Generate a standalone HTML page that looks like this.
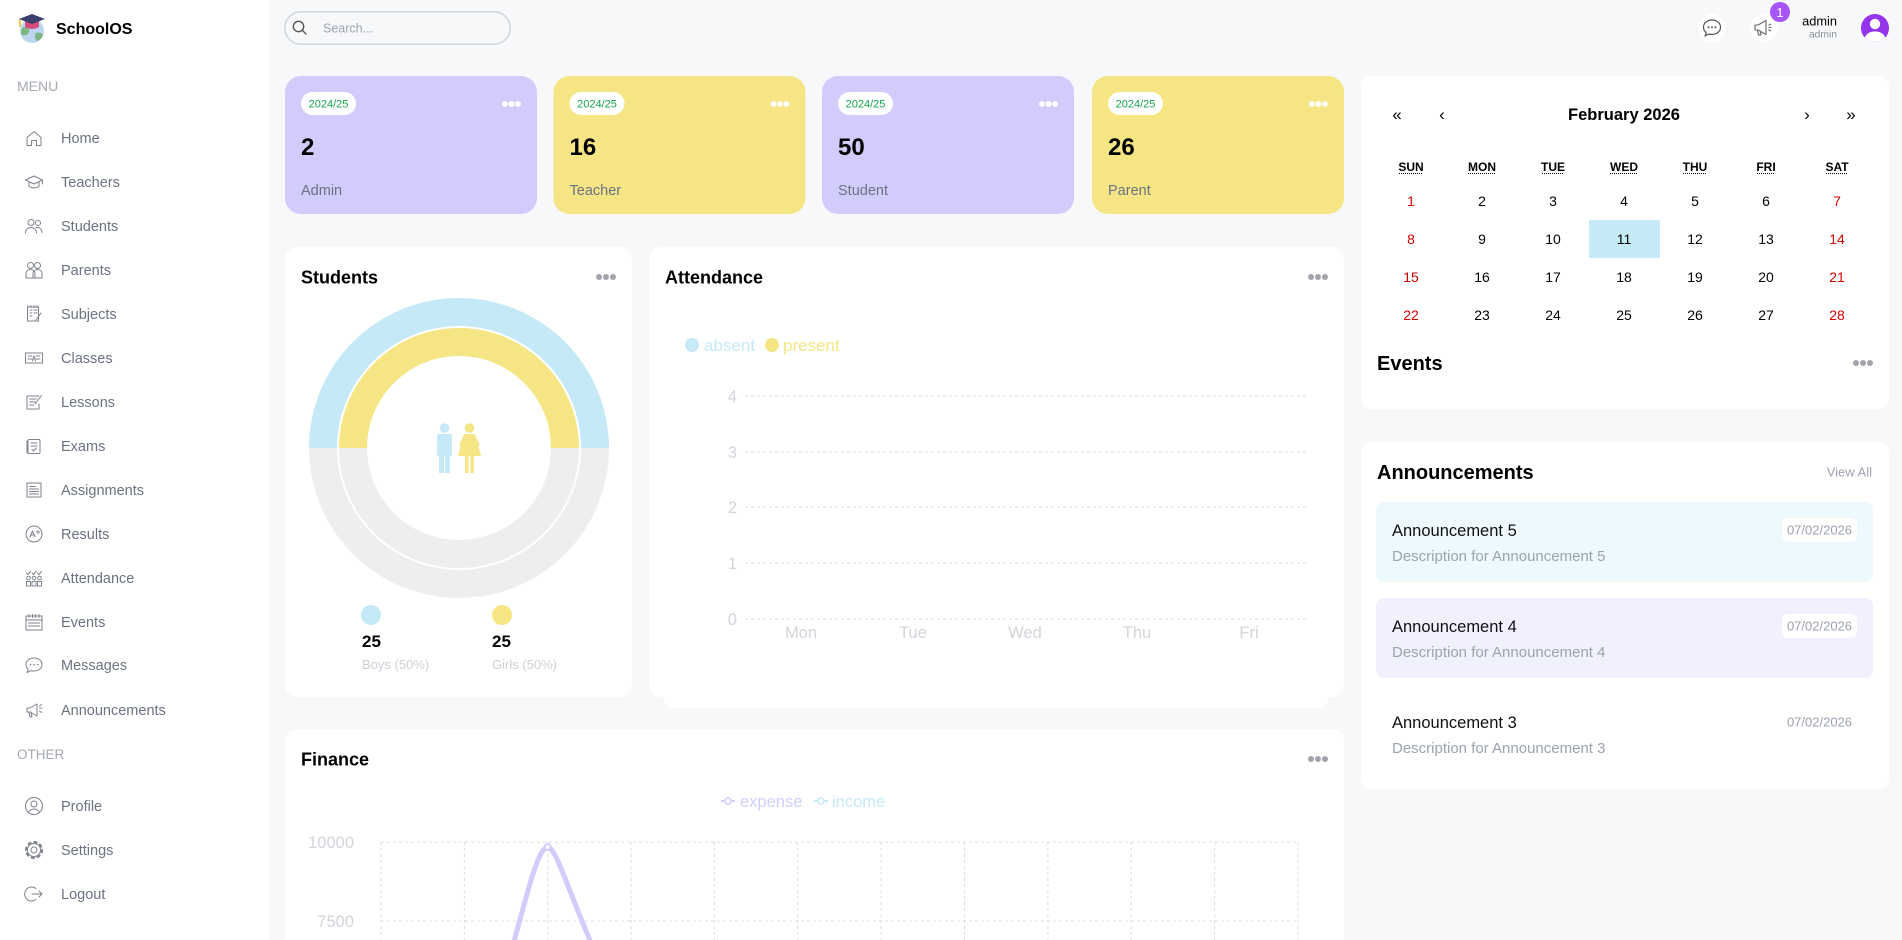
<!DOCTYPE html>
<html><head><meta charset="utf-8">
<style>
*{margin:0;padding:0;box-sizing:border-box}
html,body{width:1902px;height:940px;overflow:hidden;background:#F7F8FA;}
svg{position:absolute;left:0;top:0;display:block;font-family:"Liberation Sans",Arial,sans-serif;}
</style></head><body>
<svg width="1902" height="940" viewBox="0 0 1902 940" xmlns="http://www.w3.org/2000/svg">
<defs>
<clipPath id="av"><circle cx="1875" cy="28" r="14"/></clipPath>
<clipPath id="fin"><rect x="285" y="729" width="1059" height="211"/></clipPath>
</defs>
<rect x="0" y="0" width="1902" height="940" fill="#F7F8FA"/>
<rect x="0" y="0" width="269" height="940" fill="#fff"/>
<g transform="translate(16,12)">
  <circle cx="16" cy="19" r="12" fill="#bcd6f2"/>
  <path d="M6 16c3-2 6 0 7 2s-1 4-3 5-5 0-5-3z" fill="#7db57f"/>
  <path d="M20 21c3-1 6 0 7 2-1 3-3 5-6 6-2-2-3-5-1-8z" fill="#7db57f"/>
  <path d="M9 9l0 6q7 4 14 0l0-6z" fill="#d64b7d"/>
  <polygon points="3,7 16,2 29,7 16,12" fill="#3c3f6e"/>
  <line x1="4" y1="7.5" x2="4" y2="15" stroke="#e8b923" stroke-width="1.5"/>
</g>
<text x="56" y="34" font-size="16" font-weight="bold" fill="#000">SchoolOS</text>

<text x="17" y="91" font-size="14" fill="#a3a8b3">MENU</text>
<text x="17" y="759" font-size="13.5" fill="#a3a8b3">OTHER</text>

<g font-size="14.5" fill="#6b7280">
<text x="61" y="143">Home</text>
<text x="61" y="187">Teachers</text>
<text x="61" y="231">Students</text>
<text x="61" y="275">Parents</text>
<text x="61" y="319">Subjects</text>
<text x="61" y="363">Classes</text>
<text x="61" y="407">Lessons</text>
<text x="61" y="451">Exams</text>
<text x="61" y="495">Assignments</text>
<text x="61" y="539">Results</text>
<text x="61" y="583">Attendance</text>
<text x="61" y="627">Events</text>
<text x="61" y="670">Messages</text>
<text x="61" y="715">Announcements</text>
<text x="61" y="811">Profile</text>
<text x="61" y="855">Settings</text>
<text x="61" y="899">Logout</text>
</g>
<g fill="none" stroke="#7d828c" stroke-width="1" stroke-linejoin="round" stroke-linecap="round">
<g transform="translate(24,128)"><path d="M3 9.5L10 3.5l7 6V17.5h-4.5v-5h-5v5H3z"/></g>
<g transform="translate(24,172)"><path d="M1.5 8L10 4l8.5 4L10 12z M5 10v4.5c3 2 7 2 10 0V10 M18.5 8v4"/></g>
<g transform="translate(24,216)"><circle cx="7" cy="6.5" r="3"/><circle cx="14" cy="7" r="2.5"/><path d="M1.5 17c0-3.5 2.5-5.5 5.5-5.5s5.5 2 5.5 5.5M12 11.5c3.5-.5 6 1.5 6 5"/></g>
<g transform="translate(24,260)"><circle cx="6.5" cy="5.5" r="3"/><circle cx="13.5" cy="5.5" r="3"/><path d="M2 18v-4c0-3 2-4.5 4.5-4.5S11 11 11 14v4zM9 18v-4c0-3 2-4.5 4.5-4.5S18 11 18 14v4z"/></g>
<g transform="translate(24,304)"><rect x="3.5" y="3" width="11" height="14"/><path d="M6 6h2M6 9h2M6 12h2M10 6h3M10 9h3M4 1.5v2M7 1.5v2M10 1.5v2M13 1.5v2M12 16l5-7"/></g>
<g transform="translate(24,348)"><rect x="1.5" y="5" width="17" height="10"/><path d="M4 8h4M4 11h4M12 8h4M12 11h4M8.5 13l1.5-5 1.5 5"/></g>
<g transform="translate(24,392)"><path d="M15 4H3v13h12V12M5.5 7h7M5.5 10h6M5.5 13h4M17.5 3.5L11 12"/></g>
<g transform="translate(24,436)"><rect x="4" y="3.5" width="12" height="14" rx="1"/><path d="M7 7h6M7 10h6M8 13.5l1.5 1.5 3-3M3 5v12"/></g>
<g transform="translate(24,480)"><rect x="3" y="3" width="14" height="14"/><path d="M5.5 6.5h6M5.5 9h9M5.5 11.5h9M5.5 14h9"/></g>
<g transform="translate(24,524)"><circle cx="10" cy="10" r="8"/><path d="M6 13l2.5-6 2.5 6M7 11h3M12.5 8h3M14 6.5v3"/></g>
<g transform="translate(24,568)"><path d="M2.5 18v-4.5h4V18zM8 18v-4.5h4V18zM13.5 18v-4.5h4V18z"/><circle cx="4.5" cy="10" r="1.8"/><circle cx="10" cy="10" r="1.8"/><circle cx="15.5" cy="10" r="1.8"/><path d="M2.5 5l1.5 1.5 2.5-3M8 5l1.5 1.5 2.5-3M13.5 5l1.5 1.5 2.5-3"/></g>
<g transform="translate(24,612)"><rect x="2" y="4" width="16" height="14"/><path d="M2 8h16M5 2.5v3M8.5 2.5v3M11.5 2.5v3M15 2.5v3M4.5 11h11M4.5 14h11"/></g>
<g transform="translate(24,655)"><path d="M10 3c4.7 0 8 2.8 8 6.5S14.7 16 10 16c-1 0-2-.1-2.9-.4L3 17.5l1.2-3C2.8 13.3 2 11.5 2 9.5 2 5.8 5.3 3 10 3z"/><path d="M6.5 9.5h.1M10 9.5h.1M13.5 9.5h.1" stroke-width="1.6"/></g>
<g transform="translate(24,700)"><path d="M3 8h3l7-4v12l-7-4H3zM5 12l1 5h2l-1-5M15.5 8h2.5M15.5 6l2-1.5M15.5 11l2 1.5"/></g>
<g transform="translate(24,796)"><circle cx="10" cy="10" r="8.5"/><circle cx="10" cy="8" r="3"/><path d="M4.5 16.5c1-2.5 3-3.5 5.5-3.5s4.5 1 5.5 3.5"/></g>
<g transform="translate(24,840)"><circle cx="10" cy="10" r="3"/><circle cx="10" cy="10" r="6.5"/><circle cx="10" cy="10" r="8" stroke-width="2" stroke-dasharray="2.5 3.78"/></g>
<g transform="translate(24,884)"><path d="M12 4.5A7 7 0 1 0 12 15.5M8 10h10M15 7l3 3-3 3"/></g>
</g>

<rect x="284.75" y="11.75" width="225.5" height="32.5" rx="16.25" fill="none" stroke="#d1d5db" stroke-width="1.5"/>
<circle cx="298.5" cy="26.5" r="5.2" fill="none" stroke="#555" stroke-width="1.4"/>
<line x1="302.3" y1="30.3" x2="306" y2="34" stroke="#555" stroke-width="1.4" stroke-linecap="round"/>
<text x="323" y="32.5" font-size="12.5" fill="#9ca3af">Search...</text>

<circle cx="1712" cy="28" r="14" fill="#fff"/>
<path d="M1712 20c-5 0-8.5 3.2-8.5 7.2 0 2.2 1 4 2.7 5.3l-1 3.3 3.7-1.8c1 .3 2 .4 3.1.4 5 0 8.5-3.2 8.5-7.2S1717 20 1712 20z" fill="none" stroke="#555" stroke-width="1.2"/>
<circle cx="1708.5" cy="27.3" r="1" fill="#555"/><circle cx="1712" cy="27.3" r="1" fill="#555"/><circle cx="1715.5" cy="27.3" r="1" fill="#555"/>
<circle cx="1764" cy="28" r="14" fill="#fff"/>
<path d="M1755 25h3l8-4.5v14l-8-4.5h-3z M1757.5 30.5l1 4.5h2.5l-1-4.5 M1768.5 25.5l2.5-1.5 M1768.5 27.5h3 M1768.5 29.5l2.5 1.5" fill="none" stroke="#666" stroke-width="1.1" stroke-linejoin="round"/>
<circle cx="1780" cy="12" r="10" fill="#a855f7"/>
<text x="1780" y="17" font-size="13" fill="#fff" text-anchor="middle">1</text>
<text x="1837" y="25.5" font-size="12.8" fill="#000" text-anchor="end">admin</text>
<text x="1837" y="37.5" font-size="10.3" fill="#8b8f98" text-anchor="end">admin</text>
<circle cx="1875" cy="28" r="14" fill="#9333ea"/>
<g clip-path="url(#av)" fill="#fff">
  <circle cx="1875" cy="24" r="5.2"/>
  <path d="M1864 42c0-7 4.5-10.5 11-10.5s11 3.5 11 10.5z"/>
</g>

<g>
<rect x="285" y="76" width="252" height="138" rx="16" fill="#D2CCFD"/>
<rect x="553.5" y="76" width="252" height="138" rx="16" fill="#F5E585"/>
<rect x="822" y="76" width="252" height="138" rx="16" fill="#D2CCFD"/>
<rect x="1092" y="76" width="252" height="138" rx="16" fill="#F5E585"/>
</g>
<g font-size="11" fill="#16a34a" text-anchor="middle">
<rect x="301" y="92" width="55" height="23" rx="11.5" fill="#fff"/><text x="328.5" y="107.5">2024/25</text>
<rect x="569.5" y="92" width="55" height="23" rx="11.5" fill="#fff"/><text x="597" y="107.5">2024/25</text>
<rect x="838" y="92" width="55" height="23" rx="11.5" fill="#fff"/><text x="865.5" y="107.5">2024/25</text>
<rect x="1108" y="92" width="55" height="23" rx="11.5" fill="#fff"/><text x="1135.5" y="107.5">2024/25</text>
</g>
<g fill="#fff">
<circle cx="505" cy="104" r="2.9"/><circle cx="511.5" cy="104" r="2.9"/><circle cx="518" cy="104" r="2.9"/>
<circle cx="773.5" cy="104" r="2.9"/><circle cx="780" cy="104" r="2.9"/><circle cx="786.5" cy="104" r="2.9"/>
<circle cx="1042" cy="104" r="2.9"/><circle cx="1048.5" cy="104" r="2.9"/><circle cx="1055" cy="104" r="2.9"/>
<circle cx="1312" cy="104" r="2.9"/><circle cx="1318.5" cy="104" r="2.9"/><circle cx="1325" cy="104" r="2.9"/>
</g>
<g font-size="24" font-weight="bold" fill="#000">
<text x="301" y="155">2</text>
<text x="569.5" y="155">16</text>
<text x="838" y="155">50</text>
<text x="1108" y="155">26</text>
</g>
<g font-size="14.5" fill="#6b7280">
<text x="301" y="195">Admin</text>
<text x="569.5" y="195">Teacher</text>
<text x="838" y="195">Student</text>
<text x="1108" y="195">Parent</text>
</g>

<rect x="285" y="247" width="347" height="450" rx="12" fill="#fff"/>
<text x="301" y="283.5" font-size="18" font-weight="bold" fill="#000">Students</text>
<g fill="#a3a3ad"><circle cx="599" cy="277" r="3"/><circle cx="606" cy="277" r="3"/><circle cx="613" cy="277" r="3"/></g>
<path d="M309 448 A150 150 0 0 0 609 448 L581 448 A122 122 0 0 1 337 448 Z" fill="#EEEEEE"/>
<path d="M339 448 A120 120 0 0 0 579 448 L551 448 A92 92 0 0 1 367 448 Z" fill="#EEEEEE"/>
<path d="M309 448 A150 150 0 0 1 609 448 L581 448 A122 122 0 0 0 337 448 Z" fill="#C6E9F8"/>
<path d="M339 448 A120 120 0 0 1 579 448 L551 448 A92 92 0 0 0 367 448 Z" fill="#F5E585"/>
<g fill="#C6E9F8">
  <circle cx="444.5" cy="428" r="4.8"/>
  <rect x="437" y="434" width="15" height="22" rx="2"/>
  <rect x="439" y="452" width="5" height="21"/>
  <rect x="445" y="452" width="5" height="21"/>
</g>
<g fill="#F5E585">
  <circle cx="469.5" cy="428" r="4.8"/>
  <path d="M464 434h11l6 22h-23z"/>
  <path d="M464 435l-5 10 2 1 4-8zM475 435l5 10-2 1-4-8z"/>
  <rect x="465" y="455" width="3.5" height="18"/>
  <rect x="470.5" y="455" width="3.5" height="18"/>
</g>
<circle cx="371" cy="615" r="10" fill="#C6E9F8"/>
<circle cx="502" cy="615" r="10" fill="#F5E585"/>
<text x="362" y="647" font-size="17" font-weight="bold" fill="#000">25</text>
<text x="492" y="647" font-size="17" font-weight="bold" fill="#000">25</text>
<text x="362" y="669" font-size="13" fill="#cdd1d7">Boys (50%)</text>
<text x="492" y="669" font-size="13" fill="#cdd1d7">Girls (50%)</text>

<rect x="664" y="600" width="664" height="108" rx="10" fill="#fff"/>
<rect x="649" y="247" width="695" height="450" rx="12" fill="#fff"/>
<text x="665" y="283.5" font-size="18" font-weight="bold" fill="#000">Attendance</text>
<g fill="#a3a3ad"><circle cx="1311" cy="277" r="3"/><circle cx="1318" cy="277" r="3"/><circle cx="1325" cy="277" r="3"/></g>
<circle cx="692" cy="345" r="7" fill="#C6E9F8"/>
<text x="704" y="351" font-size="17" fill="#C6E9F8">absent</text>
<circle cx="772" cy="345" r="7" fill="#F5E585"/>
<text x="783" y="351" font-size="17" fill="#F5E585">present</text>
<g stroke="#ddd" stroke-dasharray="3 3" stroke-width="1">
<line x1="745" y1="396" x2="1306" y2="396"/>
<line x1="745" y1="452" x2="1306" y2="452"/>
<line x1="745" y1="507" x2="1306" y2="507"/>
<line x1="745" y1="563" x2="1306" y2="563"/>
<line x1="745" y1="619" x2="1306" y2="619"/>
</g>
<g font-size="16.5" fill="#d1d5db">
<text x="737" y="402" text-anchor="end">4</text>
<text x="737" y="458" text-anchor="end">3</text>
<text x="737" y="513" text-anchor="end">2</text>
<text x="737" y="569" text-anchor="end">1</text>
<text x="737" y="625" text-anchor="end">0</text>
<text x="801" y="638" text-anchor="middle">Mon</text>
<text x="913" y="638" text-anchor="middle">Tue</text>
<text x="1025" y="638" text-anchor="middle">Wed</text>
<text x="1137" y="638" text-anchor="middle">Thu</text>
<text x="1249" y="638" text-anchor="middle">Fri</text>
</g>

<path d="M285 940 V741 A12 12 0 0 1 297 729 H1332 A12 12 0 0 1 1344 741 V940 Z" fill="#fff"/>
<text x="301" y="765.5" font-size="18" font-weight="bold" fill="#000">Finance</text>
<g fill="#a3a3ad"><circle cx="1311" cy="759" r="3"/><circle cx="1318" cy="759" r="3"/><circle cx="1325" cy="759" r="3"/></g>
<line x1="721" y1="801" x2="735" y2="801" stroke="#CFCEFF" stroke-width="2"/>
<circle cx="728" cy="801" r="3" fill="#fff" stroke="#CFCEFF" stroke-width="1.5"/>
<text x="740" y="807" font-size="16.5" fill="#CFCEFF">expense</text>
<line x1="814" y1="801" x2="828" y2="801" stroke="#C6E9F8" stroke-width="2"/>
<circle cx="821" cy="801" r="3" fill="#fff" stroke="#C6E9F8" stroke-width="1.5"/>
<text x="832" y="807" font-size="16.5" fill="#C6E9F8">income</text>
<g clip-path="url(#fin)">
<g stroke="#ddd" stroke-dasharray="3 3" stroke-width="1">
<line x1="381" y1="842" x2="1298" y2="842"/>
<line x1="381" y1="921" x2="1298" y2="921"/>
<line x1="381" y1="842" x2="381" y2="940"/>
<line x1="464.4" y1="842" x2="464.4" y2="940"/>
<line x1="547.7" y1="842" x2="547.7" y2="940"/>
<line x1="631.1" y1="842" x2="631.1" y2="940"/>
<line x1="714.4" y1="842" x2="714.4" y2="940"/>
<line x1="797.8" y1="842" x2="797.8" y2="940"/>
<line x1="881.2" y1="842" x2="881.2" y2="940"/>
<line x1="964.5" y1="842" x2="964.5" y2="940"/>
<line x1="1047.9" y1="842" x2="1047.9" y2="940"/>
<line x1="1131.2" y1="842" x2="1131.2" y2="940"/>
<line x1="1214.6" y1="842" x2="1214.6" y2="940"/>
<line x1="1298" y1="842" x2="1298" y2="940"/>
</g>
<path d="M513 945 C527 895 538 847 547.7 847 C556 847 570 895 592 945" fill="none" stroke="#D2CCFD" stroke-width="5"/>
<circle cx="547.7" cy="847" r="3" fill="#fff" stroke="#D2CCFD" stroke-width="2"/>
</g>
<g font-size="16.5" fill="#d1d5db">
<text x="354" y="848" text-anchor="end">10000</text>
<text x="354" y="927" text-anchor="end">7500</text>
</g>

<rect x="1361" y="76" width="528" height="333" rx="10" fill="#fff"/>
<rect x="1589" y="220" width="71" height="38" fill="#C6E9F8"/>
<g font-size="17" fill="#000" text-anchor="middle">
<text x="1397" y="120">«</text>
<text x="1442" y="120">‹</text>
<text x="1807" y="120">›</text>
<text x="1851" y="120">»</text>
</g>
<text x="1624" y="120" font-size="16.5" font-weight="bold" fill="#000" text-anchor="middle">February 2026</text>
<g font-size="12" font-weight="bold" fill="#000" text-anchor="middle">
<text x="1411" y="171">SUN</text><text x="1482" y="171">MON</text><text x="1553" y="171">TUE</text><text x="1624" y="171">WED</text><text x="1695" y="171">THU</text><text x="1766" y="171">FRI</text><text x="1837" y="171">SAT</text>
</g>
<g stroke="#000" stroke-width="1" stroke-dasharray="1 1">
<line x1="1399" y1="173.5" x2="1423" y2="173.5"/>
<line x1="1468" y1="173.5" x2="1496" y2="173.5"/>
<line x1="1542" y1="173.5" x2="1564" y2="173.5"/>
<line x1="1610" y1="173.5" x2="1638" y2="173.5"/>
<line x1="1683" y1="173.5" x2="1707" y2="173.5"/>
<line x1="1757" y1="173.5" x2="1775" y2="173.5"/>
<line x1="1826" y1="173.5" x2="1848" y2="173.5"/>
</g>
<g font-size="14" fill="#000" text-anchor="middle">
<text x="1411" y="206" fill="#d10000">1</text><text x="1482" y="206">2</text><text x="1553" y="206">3</text><text x="1624" y="206">4</text><text x="1695" y="206">5</text><text x="1766" y="206">6</text><text x="1837" y="206" fill="#d10000">7</text>
<text x="1411" y="244" fill="#d10000">8</text><text x="1482" y="244">9</text><text x="1553" y="244">10</text><text x="1624" y="244">11</text><text x="1695" y="244">12</text><text x="1766" y="244">13</text><text x="1837" y="244" fill="#d10000">14</text>
<text x="1411" y="282" fill="#d10000">15</text><text x="1482" y="282">16</text><text x="1553" y="282">17</text><text x="1624" y="282">18</text><text x="1695" y="282">19</text><text x="1766" y="282">20</text><text x="1837" y="282" fill="#d10000">21</text>
<text x="1411" y="320" fill="#d10000">22</text><text x="1482" y="320">23</text><text x="1553" y="320">24</text><text x="1624" y="320">25</text><text x="1695" y="320">26</text><text x="1766" y="320">27</text><text x="1837" y="320" fill="#d10000">28</text>
</g>
<text x="1377" y="370" font-size="20" font-weight="bold" fill="#000">Events</text>
<g fill="#a3a3ad"><circle cx="1856" cy="363" r="3"/><circle cx="1863" cy="363" r="3"/><circle cx="1870" cy="363" r="3"/></g>

<rect x="1361" y="442" width="528" height="347" rx="10" fill="#fff"/>
<text x="1377" y="479" font-size="20" font-weight="bold" fill="#000">Announcements</text>
<text x="1872" y="476.5" font-size="13" fill="#9ca3af" text-anchor="end">View All</text>
<rect x="1376" y="502" width="497" height="80" rx="8" fill="#EDF9FD"/>
<rect x="1376" y="598" width="497" height="80" rx="8" fill="#F1F0FF"/>
<rect x="1376" y="694" width="497" height="80" rx="8" fill="#fff"/>
<rect x="1782" y="518" width="75" height="24" rx="6" fill="#fff"/>
<rect x="1782" y="614" width="75" height="24" rx="6" fill="#fff"/>
<g font-size="16.5" fill="#111">
<text x="1392" y="536">Announcement 5</text>
<text x="1392" y="632">Announcement 4</text>
<text x="1392" y="728">Announcement 3</text>
</g>
<g font-size="15" fill="#9ca3af">
<text x="1392" y="561">Description for Announcement 5</text>
<text x="1392" y="657">Description for Announcement 4</text>
<text x="1392" y="753">Description for Announcement 3</text>
</g>
<g font-size="13" fill="#9ca3af" text-anchor="middle">
<text x="1819.5" y="534.5">07/02/2026</text>
<text x="1819.5" y="630.5">07/02/2026</text>
<text x="1819.5" y="726.5">07/02/2026</text>
</g>
</svg>
</body></html>
